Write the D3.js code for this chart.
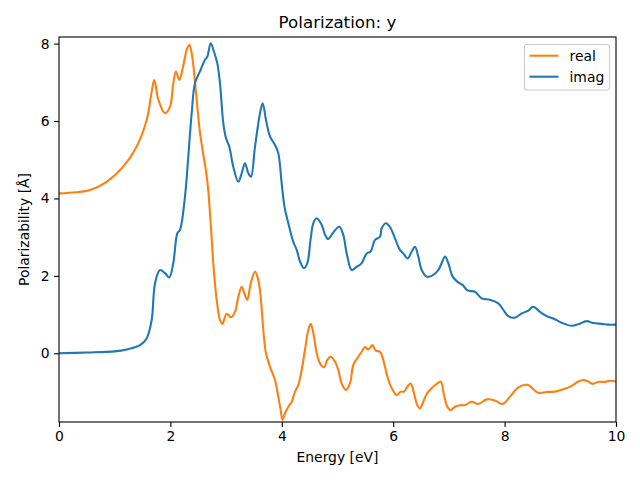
<!DOCTYPE html>
<html><head><meta charset="utf-8">
<script src="https://cdn.jsdelivr.net/npm/d3@7"></script>
<style>body{margin:0;background:#fff}svg{display:block}text{font-family:"DejaVu Sans",sans-serif;fill:#000}</style>
</head><body>
<svg id="c" width="640" height="480"></svg>
<script>
const title = "Polarization: y";
const xLabel = "Energy [eV]";
const yLabel = "Polarizability [Å]";
const xTicks = [0, 2, 4, 6, 8, 10];
const yTicks = [0, 2, 4, 6, 8];
const seriesNames = ["real", "imag"];
const seriesColors = ["#ff7f0e", "#1f77b4"];

const realX = [0,0.3,0.557,0.856,1.154,1.395,1.575,1.664,1.711,1.783,1.903,1.993,2.052,2.100,2.160,2.221,2.293,2.340,2.382,2.411,2.442,2.472,2.501,2.531,2.562,2.600,2.640,2.680,2.711,2.740,2.770,2.831,2.890,2.932,3.011,3.083,3.160,3.219,3.280,3.327,3.381,3.442,3.519,3.578,3.621,3.668,3.716,3.788,3.878,3.937,3.980,4.012,4.057,4.117,4.178,4.237,4.296,4.357,4.416,4.476,4.519,4.566,4.627,4.686,4.758,4.817,4.878,4.955,5.014,5.075,5.153,5.224,5.284,5.355,5.434,5.494,5.553,5.625,5.686,5.763,5.822,5.894,5.973,6.063,6.135,6.194,6.253,6.314,6.373,6.433,6.481,6.540,6.612,6.691,6.781,6.853,6.912,6.971,7.032,7.109,7.199,7.289,7.409,7.528,7.679,7.828,7.966,8.097,8.246,8.425,8.515,8.605,8.756,8.905,9.054,9.205,9.323,9.413,9.503,9.581,9.682,9.802,9.892,10.0];
const realY = [4.13,4.16,4.22,4.43,4.82,5.34,6.03,6.76,7.06,6.55,6.20,6.37,6.98,7.28,7.06,7.36,7.84,7.97,7.75,7.45,7.00,6.55,6.10,5.70,5.40,5.05,4.70,4.20,3.60,3.00,2.33,1.38,0.86,0.76,1.02,0.93,1.07,1.46,1.72,1.55,1.38,1.81,2.11,1.89,1.46,0.60,0.00,-0.35,-0.69,-1.12,-1.47,-1.72,-1.55,-1.38,-1.25,-0.99,-0.82,-0.43,0.09,0.60,0.76,0.52,0.00,-0.26,-0.36,-0.17,-0.09,-0.22,-0.43,-0.78,-0.95,-0.78,-0.30,-0.13,0.04,0.16,0.10,0.21,0.07,0.04,-0.17,-0.60,-0.90,-1.08,-0.99,-0.99,-0.86,-0.78,-1.03,-1.34,-1.42,-1.25,-1.03,-0.90,-0.79,-0.73,-1.08,-1.38,-1.47,-1.38,-1.34,-1.34,-1.25,-1.31,-1.19,-1.22,-1.31,-1.12,-0.88,-0.82,-0.93,-1.02,-1.00,-0.99,-0.93,-0.84,-0.73,-0.69,-0.73,-0.79,-0.74,-0.74,-0.71,-0.73];

const imagX = [0,0.5,1.0,1.215,1.454,1.575,1.664,1.724,1.813,1.903,1.980,2.052,2.124,2.172,2.262,2.321,2.382,2.442,2.531,2.621,2.662,2.724,2.783,2.842,2.890,2.950,2.998,3.057,3.129,3.219,3.280,3.339,3.399,3.447,3.519,3.609,3.657,3.716,3.788,3.878,3.937,3.998,4.048,4.117,4.206,4.268,4.327,4.399,4.458,4.519,4.566,4.627,4.716,4.776,4.835,4.914,5.032,5.104,5.165,5.255,5.332,5.434,5.524,5.596,5.673,5.763,5.793,5.871,5.955,6.032,6.122,6.181,6.260,6.332,6.391,6.451,6.512,6.601,6.691,6.810,6.871,6.930,6.989,7.068,7.151,7.248,7.320,7.379,7.469,7.589,7.738,7.887,7.977,8.066,8.187,8.307,8.425,8.515,8.636,8.756,8.874,9.025,9.205,9.323,9.474,9.592,9.743,9.862,10.0];
const imagY = [0.00,0.02,0.05,0.10,0.21,0.39,0.86,1.81,2.15,2.07,1.96,2.33,3.10,3.19,4.05,5.08,6.20,6.98,7.28,7.58,7.66,8.01,7.79,7.49,6.98,5.94,5.56,5.34,4.82,4.43,4.65,4.91,4.65,4.56,5.34,6.20,6.46,6.03,5.60,5.38,5.17,4.39,3.79,3.36,2.88,2.67,2.37,2.20,2.33,2.97,3.36,3.49,3.32,3.06,2.95,3.10,3.27,3.06,2.58,2.15,2.22,2.33,2.58,2.63,2.93,3.01,3.23,3.36,3.23,2.97,2.67,2.58,2.45,2.63,2.75,2.50,2.15,1.98,2.00,2.15,2.33,2.50,2.33,1.98,1.85,1.76,1.64,1.61,1.59,1.42,1.38,1.29,1.12,0.96,0.92,1.03,1.10,1.20,1.07,0.96,0.90,0.79,0.71,0.75,0.83,0.78,0.76,0.74,0.74];

const svg = d3.select("#c");
const L = 59, R = 616, T = 37, B = 422;
const x = d3.scaleLinear().domain([0, 10]).range([L, R]);
const y = d3.scaleLinear().domain([-1.775, 8.17]).range([B, T]);

svg.append("clipPath").attr("id","cp").append("rect")
  .attr("x", L).attr("y", T).attr("width", R - L).attr("height", B - T);

const line = d3.line().x(d => x(d[0])).y(d => y(d[1])).curve(d3.curveCatmullRom.alpha(0.5));
const series = [d3.zip(realX, realY), d3.zip(imagX, imagY)];
const g = svg.append("g").attr("clip-path", "url(#cp)");
series.forEach((s, i) => {
  g.append("path").datum(s).attr("d", line).attr("fill", "none")
    .attr("stroke", seriesColors[i]).attr("stroke-width", 2.08)
    .attr("stroke-linejoin", "round").attr("stroke-linecap", "square");
});

const xAxis = svg.append("g").attr("transform", `translate(0,${B})`)
  .call(d3.axisBottom(x).tickValues(xTicks).tickFormat(d3.format("d")).tickSizeOuter(0).tickSize(4.9).tickPadding(4.5));
const yAxis = svg.append("g").attr("transform", `translate(${L},0)`)
  .call(d3.axisLeft(y).tickValues(yTicks).tickFormat(d3.format("d")).tickSizeOuter(0).tickSize(4.9).tickPadding(4.5));
[xAxis, yAxis].forEach(a => {
  a.select(".domain").remove();
  a.selectAll("line").attr("stroke", "#000").attr("stroke-width", 1.1);
  a.selectAll("text").attr("font-size", "13.9px").attr("font-family", "DejaVu Sans").attr("fill", "#000");
});

svg.append("rect").attr("x", L).attr("y", T).attr("width", R - L).attr("height", B - T)
  .attr("fill", "none").attr("stroke", "#000").attr("stroke-width", 1.1);

svg.append("text").attr("x", (L + R) / 2).attr("y", 28).attr("text-anchor", "middle")
  .attr("font-size", "16.7px").text(title);
svg.append("text").attr("x", (L + R) / 2).attr("y", 462).attr("text-anchor", "middle")
  .attr("font-size", "13.9px").text(xLabel);
svg.append("text").attr("transform", `translate(29,${(T + B) / 2}) rotate(-90)`).attr("text-anchor", "middle")
  .attr("font-size", "13.9px").text(yLabel);

const lg = svg.append("g");
lg.append("rect").attr("x", 524.5).attr("y", 44.5).attr("width", 85).attr("height", 45.5).attr("rx", 2.8)
  .attr("fill", "#fff").attr("fill-opacity", 0.8).attr("stroke", "#ccc").attr("stroke-width", 1.1);
seriesNames.forEach((n, i) => {
  const yy = 55.7 + i * 21;
  lg.append("line").attr("x1", 529.5).attr("x2", 558.5).attr("y1", yy).attr("y2", yy)
    .attr("stroke", seriesColors[i]).attr("stroke-width", 2.08);
  lg.append("text").attr("x", 569.5).attr("y", yy + 4.9).attr("font-size", "13.9px").text(n);
});
</script>
</body></html>
